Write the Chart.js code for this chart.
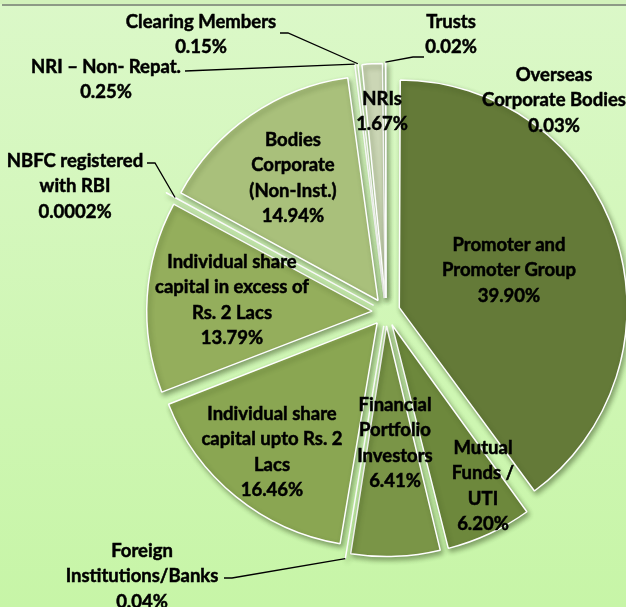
<!DOCTYPE html>
<html>
<head>
<meta charset="utf-8">
<script src="https://cdn.jsdelivr.net/npm/chart.js@4.4.0/dist/chart.umd.min.js"></script>
<style>
  html, body { margin: 0; padding: 0; background: #d6f6c1; }
  #wrap { position: relative; width: 626px; height: 607px; }
</style>
</head>
<body>
<div id="wrap"><canvas id="pie"></canvas></div>
<script>
// shareholding pattern, clockwise from 12 o'clock
const categories = [
    'Promoter and Promoter Group', 'Mutual Funds / UTI', 'Financial Portfolio Investors',
    'Foreign Institutions/Banks', 'Individual share capital upto Rs. 2 Lacs',
    'Individual share capital in excess of Rs. 2 Lacs', 'NBFC registered with RBI',
    'Bodies Corporate (Non-Inst.)', 'NRI – Non- Repat.', 'Clearing Members', 'NRIs',
    'Trusts', 'Overseas Corporate Bodies'
];
const shares = [39.90, 6.20, 6.41, 0.04, 16.46, 13.79, 0.0002, 14.94, 0.25, 0.15, 1.67, 0.02, 0.03];
const shareLabels = ['39.90%', '6.20%', '6.41%', '0.04%', '16.46%', '13.79%', '0.0002%',
    '14.94%', '0.25%', '0.15%', '1.67%', '0.02%', '0.03%'];
const nameLines = [
    ['Promoter and', 'Promoter Group'],
    ['Mutual', 'Funds /', 'UTI'],
    ['Financial', 'Portfolio', 'Investors'],
    ['Foreign', 'Institutions/Banks'],
    ['Individual share', 'capital upto Rs. 2', 'Lacs'],
    ['Individual share', 'capital in excess of', 'Rs. 2 Lacs'],
    ['NBFC registered', 'with RBI'],
    ['Bodies', 'Corporate', '(Non-Inst.)'],
    ['NRI – Non- Repat.'],
    ['Clearing Members'],
    ['NRIs'],
    ['Trusts'],
    ['Overseas', 'Corporate Bodies']
];

const sliceColors = ['#647a38', '#6d883c', '#7a9547', '#84a04c', '#8aa652', '#94ae5c', '#9fb86a',
    '#a9c07b', '#b5c98d', '#bfd1a0', '#cbd6b5', '#d5ddc5', '#dfe5d2'];

// where each label block sits: x centre, y of first line, optional leader elbow
const labelLayout = [
    { x: 509, y: 245 },
    { x: 483, y: 448 },
    { x: 395, y: 405 },
    { x: 142, y: 551, elbow: [[224, 578], [232, 578]] },
    { x: 272, y: 414 },
    { x: 232, y: 262 },
    { x: 75, y: 161, elbow: [[147, 163], [155, 163]], reach: -10 },
    { x: 293, y: 140 },
    { x: 106, y: 67, elbow: [[185, 71]] },
    { x: 201, y: 22, elbow: [[280, 33], [288, 33]] },
    { x: 382, y: 99 },
    { x: 451, y: 22, elbow: [[424, 57], [413, 57]] },
    { x: 554, y: 75 }
];
const lineGap = 25.5;

const backdrop = {
    id: 'backdrop',
    beforeDraw(chart) {
        const ctx = chart.ctx;
        const g = ctx.createLinearGradient(0, 0, 0, chart.height);
        g.addColorStop(0, '#dbf8c8');
        g.addColorStop(1, '#c7f5a7');
        ctx.save();
        ctx.fillStyle = g;
        ctx.fillRect(0, 0, chart.width, chart.height);
        ctx.fillStyle = '#d2f2bb';
        ctx.fillRect(0, 0, chart.width, 4);
        ctx.fillStyle = '#8d9a86';
        ctx.fillRect(2, 4, chart.width - 2, 2);
        ctx.restore();
    },
    beforeDatasetsDraw(chart) {
        const ctx = chart.ctx;
        ctx.save();
        ctx.shadowColor = 'rgba(40, 60, 20, 0.45)';
        ctx.shadowBlur = 5;
        ctx.shadowOffsetX = 2;
        ctx.shadowOffsetY = 3;
    },
    afterDatasetsDraw(chart) {
        chart.ctx.restore();
    }
};

const sliceLabels = {
    id: 'sliceLabels',
    afterDraw(chart) {
        const ctx = chart.ctx;
        const arcs = chart.getDatasetMeta(0).data;
        ctx.save();
        ctx.font = 'bold 18.5px Lato';
        ctx.fillStyle = '#000';
        ctx.strokeStyle = '#000';
        ctx.textAlign = 'center';
        ctx.textBaseline = 'middle';
        labelLayout.forEach((pos, i) => {
            const lines = nameLines[i].concat([shareLabels[i]]);
            ctx.lineWidth = 0.5;
            lines.forEach((t, k) => {
                ctx.fillText(t, pos.x, pos.y + k * lineGap);
                ctx.strokeText(t, pos.x, pos.y + k * lineGap); // heavier, closer to Calibri bold
            });
            if (pos.elbow) {
                // leader ends on the outer edge of the (exploded) slice
                const arc = arcs[i];
                const o = (arc.options.offset || 0) / 4;
                const mid = (arc.startAngle + arc.endAngle) / 2;
                const circ = arc.endAngle - arc.startAngle;
                const r = arc.outerRadius + o * (1 - Math.sin(Math.min(Math.PI, circ))) + (pos.reach || 0);
                const ex = arc.x + Math.cos(mid) * (o + r);
                const ey = arc.y + Math.sin(mid) * (o + r);
                ctx.beginPath();
                ctx.lineWidth = 1.3;
                ctx.moveTo(pos.elbow[0][0], pos.elbow[0][1]);
                pos.elbow.slice(1).forEach(p => ctx.lineTo(p[0], p[1]));
                ctx.lineTo(ex, ey);
                ctx.stroke();
            }
        });
        ctx.restore();
    }
};

new Chart(document.getElementById('pie'), {
    type: 'pie',
    data: {
        labels: categories,
        datasets: [{
            data: shares,
            backgroundColor: sliceColors,
            borderColor: '#ffffff',
            borderWidth: 1.5,
            offset: 56,
            radius: 222,
            clip: false
        }]
    },
    options: {
        responsive: true,
        maintainAspectRatio: false,
        animation: false,
        layout: { padding: { left: 150, right: 4, top: 20, bottom: 3 } },
        plugins: {
            legend: { display: false },
            tooltip: { enabled: false }
        }
    },
    plugins: [backdrop, sliceLabels]
});
</script>
</body>
</html>
